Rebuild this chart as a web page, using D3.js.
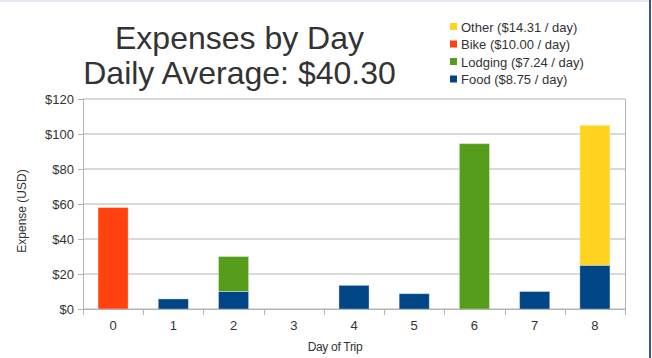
<!DOCTYPE html>
<html lang="en">
  <head>
    <meta charset="UTF-8" />
    <title>Expenses by Day</title>
    <style>
      html, body { margin: 0; padding: 0; background: #fff; }
      text { font-family: "Liberation Sans", Arial, sans-serif; }
    </style>
  </head>
  <body>
    <div id="chart"></div>
    <script src="https://d3js.org/d3.v7.min.js"></script>
    <script>
      // values
      const days = ["0", "1", "2", "3", "4", "5", "6", "7", "8"];
      const food = [0, 5.75, 10, 0, 13.5, 8.75, 0, 10, 25];
      const lodging = [0, 0, 20, 0, 0, 0, 94.5, 0, 0];
      const bike = [58, 0, 0, 0, 0, 0, 0, 0, 0];
      const other = [0, 0, 0, 0, 0, 0, 0, 0, 80];

      const seriesNames = ["Food", "Lodging", "Bike", "Other"];
      const seriesColors = ["#004586", "#579d1c", "#ff420e", "#ffd320"];
      const legendLabels = ["Other ($14.31 / day)", "Bike ($10.00 / day)", "Lodging ($7.24 / day)", "Food ($8.75 / day)"];
      const legendColors = ["#ffd320", "#ff420e", "#579d1c", "#004586"];
      const yTicks = [0, 20, 40, 60, 80, 100, 120];
      const titleLines = ["Expenses by Day", "Daily Average: $40.30"];

      const width = 652;
      const height = 358;
      const margin = {top: 99, right: 27, bottom: 49, left: 83};

      const rows = days.map((d, i) => ({
        day: d, Food: food[i], Lodging: lodging[i], Bike: bike[i], Other: other[i]
      }));

      const svg = d3.select("#chart").append("svg")
          .attr("width", width)
          .attr("height", height)
          .attr("viewBox", [0, 0, width, height]);

      const x = d3.scaleBand(days, [margin.left, width - margin.right])
          .paddingInner(0.5)
          .paddingOuter(0.25);
      const y = d3.scaleLinear([0, 120], [height - margin.bottom, margin.top]);

      const stacked = d3.stack().keys(seriesNames)(rows);

      // grid
      svg.append("g")
          .selectAll("line")
          .data(yTicks)
          .join("line")
            .attr("x1", margin.left)
            .attr("x2", width - margin.right)
            .attr("y1", d => y(d))
            .attr("y2", d => y(d))
            .attr("stroke", "#b3b3b3");

      // right frame of the plot area
      svg.append("line")
          .attr("x1", width - margin.right + 0.5).attr("x2", width - margin.right + 0.5)
          .attr("y1", y(120)).attr("y2", y(0))
          .attr("stroke", "#b3b3b3");

      // y axis
      svg.append("g")
          .attr("transform", `translate(${margin.left},0)`)
          .call(d3.axisLeft(y).tickValues(yTicks).tickSize(5).tickPadding(4).tickFormat(d => "$" + d))
          .call(g => g.selectAll("line, path").attr("stroke", "#b3b3b3"))
          .call(g => g.select(".domain").attr("d", `M0.5,${y(120)}V${y(0)}`))
          .call(g => g.selectAll("text")
              .attr("fill", "#333")
              .attr("font-size", 13)
              .attr("font-family", "Liberation Sans, Arial, sans-serif"));

      // bars
      svg.append("g")
          .selectAll("g")
          .data(stacked)
          .join("g")
            .attr("fill", (s, i) => seriesColors[i])
          .selectAll("rect")
          .data(s => s.filter(d => d[1] - d[0] > 0))
          .join("rect")
            .attr("x", d => x(d.data.day))
            .attr("y", d => y(d[1]))
            .attr("width", x.bandwidth())
            .attr("height", d => y(d[0]) - y(d[1]))
            .attr("stroke", "rgba(255,255,255,0.35)")
            .attr("stroke-width", 1);

      // x axis
      const xAxis = svg.append("g")
          .attr("transform", `translate(0,${y(0)})`);
      xAxis.append("line")
          .attr("x1", margin.left).attr("x2", width - margin.right)
          .attr("y1", 0.5).attr("y2", 0.5)
          .attr("stroke", "#b3b3b3");
      const step = x.step();
      const bounds = days.map(d => x(d) - step * x.paddingOuter()).concat([width - margin.right]);
      xAxis.append("g")
          .selectAll("line")
          .data(bounds)
          .join("line")
            .attr("x1", d => Math.round(d) + 0.5)
            .attr("x2", d => Math.round(d) + 0.5)
            .attr("y1", 0).attr("y2", 6)
            .attr("stroke", "#b3b3b3");
      xAxis.append("g")
          .selectAll("text")
          .data(days)
          .join("text")
            .attr("x", d => x(d) + x.bandwidth() / 2)
            .attr("y", 21)
            .attr("text-anchor", "middle")
            .attr("fill", "#333")
            .attr("font-size", 13)
            .text(d => d);

      // axis titles
      svg.append("text")
          .attr("x", 335)
          .attr("y", 351)
          .attr("text-anchor", "middle")
          .attr("fill", "#333")
          .attr("font-size", 12)
          .attr("letter-spacing", -0.3)
          .text("Day of Trip");

      svg.append("text")
          .attr("transform", `translate(26,${211}) rotate(-90)`)
          .attr("text-anchor", "middle")
          .attr("fill", "#333")
          .attr("font-size", 12)
          .text("Expense (USD)");

      // title
      svg.append("g")
          .selectAll("text")
          .data(titleLines)
          .join("text")
            .attr("x", 239.5)
            .attr("y", (d, i) => 49 + i * 34.5)
            .attr("text-anchor", "middle")
            .attr("fill", "#333")
            .attr("font-size", 32)
            .text(d => d);

      // legend
      const legend = svg.append("g")
          .selectAll("g")
          .data(legendLabels)
          .join("g")
            .attr("transform", (d, i) => `translate(450,${23 + i * 17.5})`);
      legend.append("rect")
          .attr("width", 7)
          .attr("height", 7)
          .attr("fill", (d, i) => legendColors[i]);
      legend.append("text")
          .attr("x", 11)
          .attr("y", 8.5)
          .attr("fill", "#333")
          .attr("font-size", 13)
          .text(d => d);

      // window frame edges
      svg.append("rect")
          .attr("x", 0).attr("y", 0)
          .attr("width", width).attr("height", 2)
          .attr("fill", "#e4eaf1");
      svg.append("rect")
          .attr("x", 649).attr("y", 0)
          .attr("width", 2).attr("height", height)
          .attr("fill", "#34598a");
    </script>
  </body>
</html>
